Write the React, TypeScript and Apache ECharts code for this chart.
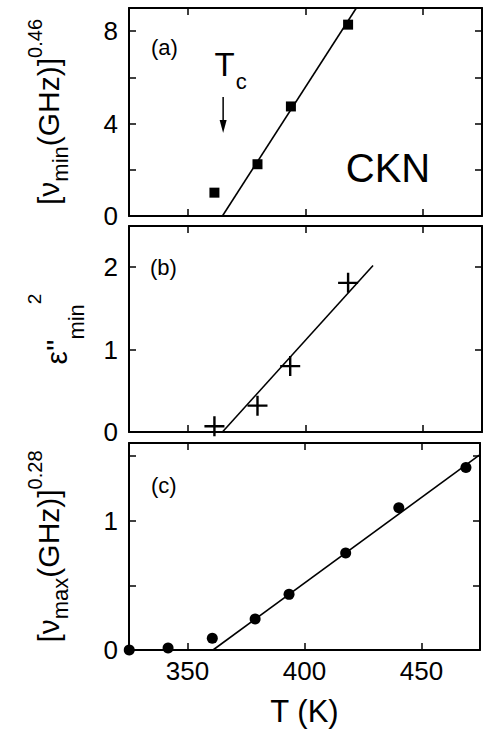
import React, { useEffect, useRef } from 'react';
import * as echarts from 'echarts';

// ---- data ----
// panel (a): [nu_min (GHz)]^0.46 vs T
const tempA = [361.3, 379.6, 393.8, 418.1];
const valA = [1.01, 2.24, 4.74, 8.28];
const fitTempA = [364.7, 421.6];
const fitValA = [0, 9.0];

// panel (b): eps''_min^2 vs T
const tempB = [361.3, 379.6, 393.5, 418.1];
const valB = [0.07, 0.32, 0.8, 1.81];
const fitTempB = [364.7, 428.7];
const fitValB = [0, 2.02];

// panel (c): [nu_max (GHz)]^0.28 vs T
const tempC = [325.1, 341.7, 360.6, 378.9, 393.4, 417.6, 440.3, 469.0];
const valC = [0.0, 0.015, 0.09, 0.24, 0.43, 0.75, 1.1, 1.41];
const fitTempC = [360.9, 475];
const fitValC = [0, 1.51];

const TC = 365;

// axis ranges / tick labels
const xRange = [325, 475];
const xTickStep = 50;
const yRangeA = [0, 9];
const yRangeB = [0, 2.5];
const yRangeC = [0, 1.6];
const yStepA = 2;
const yStepB = 1;
const yStepC = 0.5;
const yLabelsA = [0, 4, 8];
const yLabelsB = [0, 1, 2];
const yLabelsC = [0, 1];

const FONT = '"Liberation Sans", Arial, Helvetica, sans-serif';
const BLACK = '#000';

const zip = (xs: number[], ys: number[]) => xs.map((x, i) => [x, ys[i]]);

function xAxesFor(grid: number, showLabels: boolean) {
  const common: any = {
    type: 'value',
    gridIndex: grid,
    min: xRange[0],
    max: xRange[1],
    splitNumber: 3,
    minInterval: xTickStep,
    maxInterval: xTickStep,
    axisLine: { show: true, onZero: false, lineStyle: { color: BLACK, width: 2 } },
    axisTick: { show: true, inside: true, length: 7, lineStyle: { color: BLACK, width: 1.5 } },
    splitLine: { show: false },
  };
  return [
    {
      ...common,
      position: 'bottom',
      axisLabel: {
        show: showLabels,
        color: BLACK,
        fontFamily: FONT,
        fontSize: 26,
        margin: 8,
        formatter: (v: number) => (v % xTickStep === 0 ? String(v) : ''),
      },
      name: showLabels ? 'T (K)' : '',
      nameLocation: 'middle',
      nameGap: 46,
      nameTextStyle: { color: BLACK, fontFamily: FONT, fontSize: 31 },
    },
    { ...common, position: 'top', axisLabel: { show: false } },
  ];
}

function yAxesFor(
  grid: number,
  range: number[],
  step: number,
  labels: number[],
  name: string,
  rich: any,
  nameGap: number
) {
  const common: any = {
    type: 'value',
    gridIndex: grid,
    min: range[0],
    max: range[1],
    interval: step,
    axisLine: { show: true, onZero: false, lineStyle: { color: BLACK, width: 2 } },
    axisTick: { show: true, inside: true, length: 7, lineStyle: { color: BLACK, width: 1.5 } },
    splitLine: { show: false },
  };
  return [
    {
      ...common,
      position: 'left',
      axisLabel: {
        show: true,
        color: BLACK,
        fontFamily: FONT,
        fontSize: 26,
        margin: 11,
        formatter: (v: number) =>
          labels.some((l) => Math.abs(l - v) < 1e-9) ? String(v) : '',
      },
      name,
      nameLocation: 'middle',
      nameRotate: 90,
      nameGap,
      nameTextStyle: { color: BLACK, fontFamily: FONT, rich },
    },
    { ...common, position: 'right', axisLabel: { show: false } },
  ];
}

const richNu = {
  m: { fontSize: 30, lineHeight: 46, fontFamily: FONT, color: BLACK },
  s: { fontSize: 22, lineHeight: 34, verticalAlign: 'bottom', fontFamily: FONT, color: BLACK },
  p: { fontSize: 20, lineHeight: 20, verticalAlign: 'top', fontFamily: FONT, color: BLACK },
};
const richEps = {
  m: { fontSize: 30, lineHeight: 62, fontFamily: FONT, color: BLACK },
  s: { fontSize: 22, lineHeight: 50, verticalAlign: 'bottom', fontFamily: FONT, color: BLACK },
  p: { fontSize: 19, lineHeight: 19, verticalAlign: 'top', fontFamily: FONT, color: BLACK },
};

const PLUS = 'path://M8.8,0H11.2V8.8H20V11.2H11.2V20H8.8V11.2H0V8.8H8.8Z';

export default function App() {
  const ref = useRef<HTMLDivElement>(null);
  useEffect(() => {
    if (!ref.current) return;
    const chart = echarts.init(ref.current, null, { renderer: 'svg' });
    const fitLine = (grid: number, data: number[][]) => ({
      type: 'line',
      xAxisIndex: grid * 2,
      yAxisIndex: grid * 2,
      data,
      showSymbol: false,
      symbol: 'none',
      lineStyle: { color: BLACK, width: 1.6 },
      silent: true,
      z: 2,
    });
    const mark = { color: BLACK, opacity: 1 };
    const option: any = {
      animation: false,
      backgroundColor: '#fff',
      grid: [
        { left: 129, right: 1, top: 8, height: 208 },
        { left: 129, right: 1, top: 226, height: 206 },
        { left: 129, right: 1, top: 443, height: 207 },
      ],
      xAxis: [...xAxesFor(0, false), ...xAxesFor(1, false), ...xAxesFor(2, true)],
      yAxis: [
        ...yAxesFor(0, yRangeA, yStepA, yLabelsA, '{m|[ν}{s|min}{m|(GHz)]}{p|0.46}', richNu, 58),
        ...yAxesFor(1, yRangeB, yStepB, yLabelsB, "{m|ε''}{s|min}{p|2}", richEps, 42),
        ...yAxesFor(2, yRangeC, yStepC, yLabelsC, '{m|[ν}{s|max}{m|(GHz)]}{p|0.28}', richNu, 58),
      ],
      series: [
        fitLine(0, zip(fitTempA, fitValA)),
        {
          type: 'scatter',
          xAxisIndex: 0,
          yAxisIndex: 0,
          data: zip(tempA, valA),
          symbol: 'rect',
          symbolSize: 10,
          itemStyle: mark,
          z: 3,
        },
        fitLine(1, zip(fitTempB, fitValB)),
        {
          type: 'scatter',
          xAxisIndex: 2,
          yAxisIndex: 2,
          data: zip(tempB, valB),
          symbol: PLUS,
          symbolSize: 20,
          itemStyle: mark,
          z: 3,
        },
        fitLine(2, zip(fitTempC, fitValC)),
        {
          type: 'scatter',
          xAxisIndex: 4,
          yAxisIndex: 4,
          data: zip(tempC, valC),
          symbol: 'circle',
          symbolSize: 11,
          itemStyle: mark,
          z: 3,
        },
      ],
    };
    chart.setOption(option);

    const px = chart.convertToPixel({ xAxisIndex: 0 }, TC) as number;
    const txt = (text: string, x: number, y: number, size: number, align = 'left') => ({
      type: 'text',
      x,
      y,
      style: {
        text,
        fill: BLACK,
        font: `${size}px ${FONT}`,
        textAlign: align,
        textVerticalAlign: 'middle',
      },
      z: 10,
    });
    chart.setOption({
      graphic: [
        txt('(a)', 151, 47, 22),
        txt('(b)', 150, 267, 22),
        txt('(c)', 151, 485, 22),
        txt('CKN', 388, 168, 40, 'center'),
        txt('T', px + 1.5, 64, 33, 'center'),
        txt('c', px + 18, 81, 22, 'center'),
        {
          type: 'line',
          shape: { x1: px, y1: 97, x2: px, y2: 124 },
          style: { stroke: BLACK, lineWidth: 1.5 },
          z: 10,
        },
        {
          type: 'polygon',
          shape: { points: [[px - 3.5, 120], [px + 3.5, 120], [px, 133]] },
          style: { fill: BLACK },
          z: 10,
        },
      ],
    });
    return () => chart.dispose();
  }, []);
  return (
    <div
      ref={ref}
      style={{ position: 'fixed', left: 0, top: 0, width: 483, height: 733, background: '#fff' }}
    />
  );
}
